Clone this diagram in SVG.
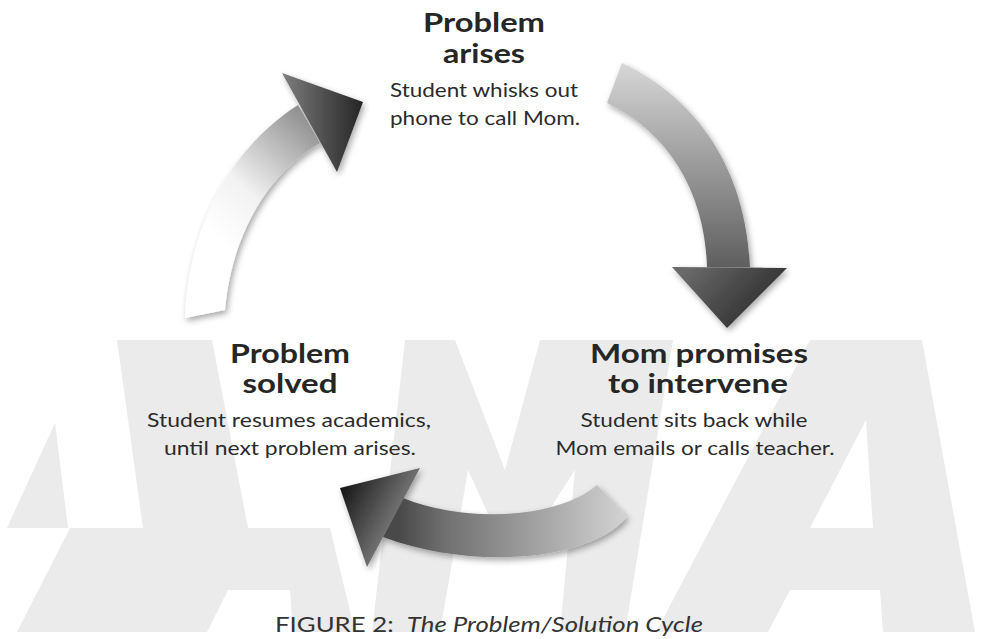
<svg xmlns="http://www.w3.org/2000/svg" width="981" height="639" viewBox="0 0 981 639">
  <defs>
    <style>
      .head { font-family: Lato, "Open Sans", "Liberation Sans", sans-serif; font-weight: 700; font-size: 26px; fill: #262626; text-anchor: middle; }
      .sub { font-family: Lato, "Open Sans", "Liberation Sans", sans-serif; font-size: 20px; fill: #2b2b2b; text-anchor: middle; }
      .cap { font-family: Lato, "Open Sans", "Liberation Sans", sans-serif; font-size: 21px; fill: #333; text-anchor: middle; }
      .mark { fill: #ebebeb; fill-rule: evenodd; }
    </style>
    <filter id="shadow" x="-20%" y="-20%" width="140%" height="140%">
      <feDropShadow dx="2" dy="3" stdDeviation="3" flood-color="#000" flood-opacity="0.35"/>
    </filter>
    <linearGradient id="shaft1" gradientUnits="userSpaceOnUse" x1="215" y1="235" x2="320" y2="120">
      <stop offset="0" stop-color="#ffffff"/>
      <stop offset="0.35" stop-color="#f2f2f2"/>
      <stop offset="1" stop-color="#8a8a8a"/>
    </linearGradient>
    <linearGradient id="head1" gradientUnits="userSpaceOnUse" x1="285" y1="0" x2="362" y2="0">
      <stop offset="0" stop-color="#7a7a7a"/>
      <stop offset="1" stop-color="#262626"/>
    </linearGradient>
    <linearGradient id="shaft2" gradientUnits="userSpaceOnUse" x1="0" y1="65" x2="0" y2="268">
      <stop offset="0" stop-color="#d6d6d6"/>
      <stop offset="1" stop-color="#5e5e5e"/>
    </linearGradient>
    <linearGradient id="head2" gradientUnits="userSpaceOnUse" x1="690" y1="265" x2="760" y2="330">
      <stop offset="0" stop-color="#6a6a6a"/>
      <stop offset="1" stop-color="#2a2a2a"/>
    </linearGradient>
    <linearGradient id="shaft3" gradientUnits="userSpaceOnUse" x1="400" y1="0" x2="625" y2="0">
      <stop offset="0" stop-color="#4a4a4a"/>
      <stop offset="0.2" stop-color="#707070"/>
      <stop offset="1" stop-color="#d2d2d2"/>
    </linearGradient>
    <linearGradient id="head3" gradientUnits="userSpaceOnUse" x1="340" y1="488" x2="400" y2="520">
      <stop offset="0" stop-color="#151515"/>
      <stop offset="1" stop-color="#7a7a7a"/>
    </linearGradient>
  </defs>

  <rect width="981" height="639" fill="#ffffff"/>

  <!-- pale italic letters in the background -->
  <g id="watermark">
    <!-- first A -->
    <path class="mark" d="M55,423 L7,528 L68,528 Z"/>
    <path class="mark" d="M117,340 L212,340 L248,528 L143,528 Z"/>
    <path class="mark" d="M70,528 L330,528 L355,632 L293,632 L290,590 L228,590 L207,632 L17,632 Z"/>
    <!-- M -->
    <path class="mark" d="M405,340 L673,340 L625,632 L560,632 L575,470 L530,540 L500,540 L468,470 L440,632 L372,632 Z M455,340 L540,340 L505,470 Z"/>
    <!-- last A -->
    <path class="mark" d="M810,340 L922,340 L975,632 L883,632 L880,590 L790,590 L768,632 L656,632 Z M866,420 L873,528 L810,528 Z"/>
  </g>

  <!-- cycle arrows -->
  <g id="connectors" filter="url(#shadow)">
    <g id="arrow-arises">
      <path d="M185,318 C188,230 228,150 298,105 L320,143 C270,172 232,232 225,310 Z" fill="url(#shaft1)"/>
      <polygon points="282,73 363,102 337,172" fill="url(#head1)"/>
    </g>
    <g id="arrow-intervene">
      <path d="M622,63 C700,100 746,172 750,267 L707,267 C705,192 668,132 607,103 Z" fill="url(#shaft2)"/>
      <polygon points="672,267 787,268 727,328" fill="url(#head2)"/>
    </g>
    <g id="arrow-solved">
      <path d="M627,517 C590,562 470,570 383,537 L403,498 C470,525 560,517 597,485 Z" fill="url(#shaft3)"/>
      <polygon points="420,468 340,488 367,567" fill="url(#head3)"/>
    </g>
  </g>

  <g id="node-problem-arises">
    <text class="head" x="484" y="32" textLength="122" lengthAdjust="spacingAndGlyphs">Problem</text>
    <text class="head" x="484" y="63" textLength="82" lengthAdjust="spacingAndGlyphs">arises</text>
    <text class="sub" x="484" y="97" textLength="188" lengthAdjust="spacingAndGlyphs">Student whisks out</text>
    <text class="sub" x="485" y="125" textLength="190" lengthAdjust="spacingAndGlyphs">phone to call Mom.</text>
  </g>

  <g id="node-mom-promises">
    <text class="head" x="699" y="363" textLength="218" lengthAdjust="spacingAndGlyphs">Mom promises</text>
    <text class="head" x="698" y="393" textLength="180" lengthAdjust="spacingAndGlyphs">to intervene</text>
    <text class="sub" x="694" y="427" textLength="227" lengthAdjust="spacingAndGlyphs">Student sits back while</text>
    <text class="sub" x="695" y="455" textLength="279" lengthAdjust="spacingAndGlyphs">Mom emails or calls teacher.</text>
  </g>

  <g id="node-problem-solved">
    <text class="head" x="290" y="363" textLength="120" lengthAdjust="spacingAndGlyphs">Problem</text>
    <text class="head" x="290" y="393" textLength="95" lengthAdjust="spacingAndGlyphs">solved</text>
    <text class="sub" x="289" y="427" textLength="284" lengthAdjust="spacingAndGlyphs">Student resumes academics,</text>
    <text class="sub" x="290" y="455" textLength="252" lengthAdjust="spacingAndGlyphs">until next problem arises.</text>
  </g>

  <text class="cap" x="489" y="632" textLength="428" lengthAdjust="spacingAndGlyphs">FIGURE 2:&#160; <tspan font-style="italic">The Problem/Solution Cycle</tspan></text>
</svg>
